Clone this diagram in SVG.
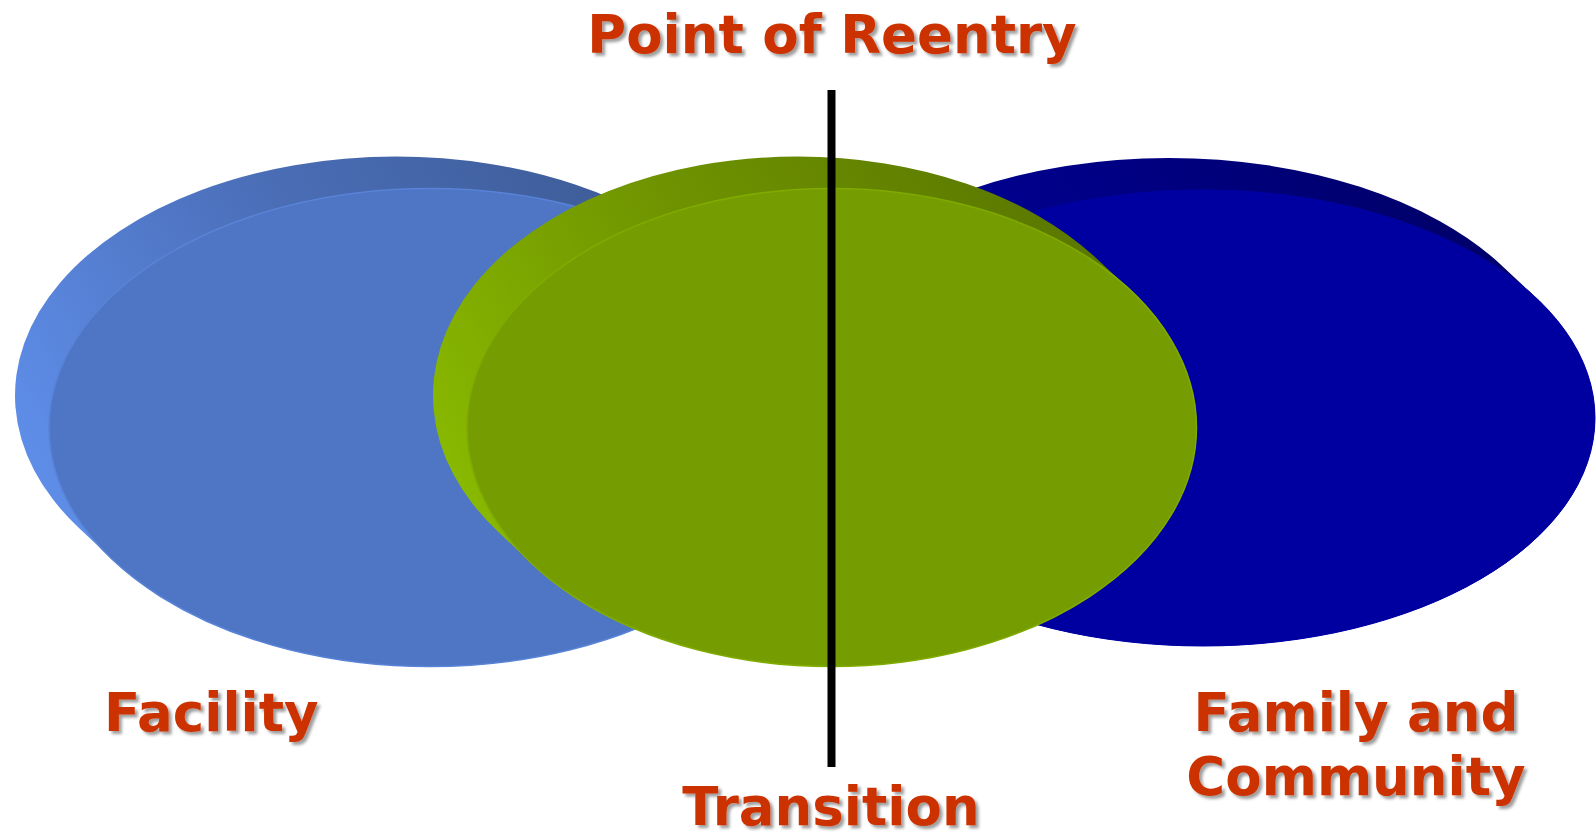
<svg xmlns="http://www.w3.org/2000/svg" width="1596" height="835" viewBox="0 0 1596 835">
  <defs>
    <linearGradient id="sideBlue" gradientUnits="userSpaceOnUse" x1="650" y1="160" x2="60" y2="500">
      <stop offset="0" stop-color="#3C5A94"/>
      <stop offset="0.5" stop-color="#4A6DB6"/>
      <stop offset="1" stop-color="#5E8DE8"/>
    </linearGradient>
    <linearGradient id="sideGreen" gradientUnits="userSpaceOnUse" x1="1050" y1="160" x2="460" y2="500">
      <stop offset="0" stop-color="#5A7700"/>
      <stop offset="0.5" stop-color="#6E9200"/>
      <stop offset="1" stop-color="#89B900"/>
    </linearGradient>
    <linearGradient id="sideNavy" gradientUnits="userSpaceOnUse" x1="1400" y1="160" x2="850" y2="500">
      <stop offset="0" stop-color="#00006C"/>
      <stop offset="1" stop-color="#0000A8"/>
    </linearGradient>
    <filter id="shadow" x="-5%" y="-10%" width="115%" height="125%">
      <feDropShadow dx="3" dy="3" stdDeviation="1.6" flood-color="#000000" flood-opacity="0.38"/>
    </filter>
  </defs>
  <style>
    .lbl { font-family: "DejaVu Sans", Verdana, "Liberation Sans", sans-serif; font-weight: bold; font-size: 53px; fill: #CC3300; filter: url(#shadow); }
    .faceBlue { fill: #4E76C4; stroke: #5883D6; stroke-width: 1.5; }
    .faceGreen { fill: #759C00; stroke: #80AB00; stroke-width: 1.5; }
    .faceNavy { fill: #0000A0; stroke: #0000A6; stroke-width: 1; }
  </style>
  <rect width="1596" height="835" fill="#FFFFFF"/>

  <g id="facility">
    <path fill="url(#sideBlue)" d="M713.03,262.95 A381,239 0 0 0 396,156.5 A381,239 0 0 0 78.97,528.05 L112.97,560.05 A381,239 0 0 0 430,666.5 A381,239 0 0 0 747.03,294.95 Z"/>
    <ellipse class="faceBlue" cx="430" cy="427.5" rx="381" ry="239"/>
  </g>

  <g id="family-community">
    <path fill="url(#sideNavy)" d="M1502.47,266.14 A392,228 0 0 0 1169,158 A392,228 0 0 0 835.53,505.86 L869.53,537.86 A392,228 0 0 0 1203,646 A392,228 0 0 0 1536.47,298.14 Z"/>
    <ellipse class="faceNavy" cx="1203" cy="418" rx="392" ry="228"/>
  </g>

  <g id="transition">
    <path fill="url(#sideGreen)" d="M1097.1,258.95 A364.75,239 0 0 0 797.75,156.5 A364.75,239 0 0 0 498.4,532.05 L532.4,564.05 A364.75,239 0 0 0 831.75,666.5 A364.75,239 0 0 0 1131.1,290.95 Z"/>
    <ellipse class="faceGreen" cx="831.75" cy="427.5" rx="364.75" ry="239"/>
  </g>

  <g id="connectors">
    <line x1="831.5" y1="90" x2="831.5" y2="767" stroke="#000000" stroke-width="8"/>
  </g>

  <g id="labels">
    <text id="point-of-reentry" class="lbl" x="832" y="53" text-anchor="middle">Point of Reentry</text>
    <text id="facility-label" class="lbl" x="104" y="731">Facility</text>
    <text id="transition-label" class="lbl" x="831" y="825" text-anchor="middle">Transition</text>
    <text id="family-label" class="lbl" text-anchor="middle"><tspan x="1356" y="731">Family and</tspan><tspan x="1356" y="795">Community</tspan></text>
  </g>
</svg>
